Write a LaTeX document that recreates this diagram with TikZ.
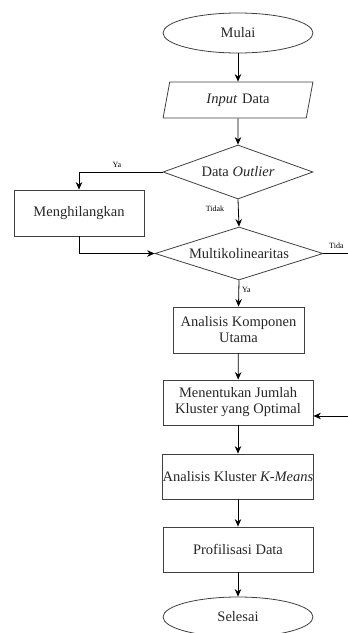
\documentclass[tikz,border=0pt]{standalone}
\usepackage{fontspec}
\setmainfont{Liberation Serif}
\usetikzlibrary{shapes.geometric,arrows.meta}
\begin{document}
\begin{tikzpicture}[x=1pt,y=-1pt,
  base/.style={draw=black!75,line width=0.8pt,font=\fontsize{14.5}{16}\selectfont,inner sep=0pt,align=center,text=black!85},
  term/.style={base,ellipse,minimum width=150pt,minimum height=40pt},
  io/.style={base,trapezium,trapezium left angle=65,trapezium right angle=115,minimum width=150pt,minimum height=36pt,trapezium stretches=true,text width=120pt},
  dec/.style={base,diamond,aspect=2.8,minimum width=150pt,minimum height=54pt},
  proc/.style={base,rectangle,minimum height=46pt},
  lab/.style={font=\fontsize{8}{9}\selectfont,inner sep=1pt},
  arr/.style={line width=0.8pt,-{Stealth[length=7.5pt,width=6.5pt]}},
  ln/.style={line width=0.8pt}]
\useasboundingbox (0,0) rectangle (348,633);
\node[term] (mulai) at (238,33) {Mulai};
\node[io] (input) at (238,100) {\textit{Input} Data};
\node[dec] (outlier) at (238,172) {Data \textit{Outlier}};
\node[proc,minimum width=130pt] (hilang) at (79,213) {Menghilangkan};
\node[dec,minimum width=168pt,minimum height=53pt,aspect=3.2] (multi) at (239,253.5) {Multikolinearitas};
\node[proc,minimum width=131pt] (pca) at (238.5,330) {Analisis Komponen\\Utama};
\node[proc,minimum width=150pt,minimum height=45pt] (jumlah) at (238,402.5) {Menentukan Jumlah\\Kluster yang Optimal};
\node[proc,minimum width=150pt,minimum height=45pt] (kmeans) at (238,476.5) {Analisis Kluster \textit{K-Means}};
\node[proc,minimum width=150pt,minimum height=45pt] (profil) at (238,549.5) {Profilisasi Data};
\node[term] (selesai) at (238,617) {Selesai};
\coordinate (edgeA) at (348,253.5);
\coordinate (edgeB) at (348,416);
\draw[arr] (mulai) -- (input);
\draw[arr] (input) -- (outlier);
\draw[arr] (outlier.west) -| (hilang.north);
\node[lab] at (117,165) {Ya};
\draw[arr] (outlier.south) -- (multi.north);
\node[lab] at (215,209) {Tidak};
\draw[arr] (hilang.south) |- (multi.west);
\draw[ln] (multi.east) -- (edgeA);
\node[lab,anchor=south west] at (328,250) {Tida};
\draw[arr] (multi.south) -- (pca.north) node[lab,pos=0.35,right=2pt] {Ya};
\draw[arr] (pca) -- (jumlah);
\draw[arr] (edgeB) -- (jumlah.east |- edgeB);
\draw[arr] (jumlah) -- (kmeans);
\draw[arr] (kmeans) -- (profil);
\draw[arr] (profil) -- (selesai);
\end{tikzpicture}
\end{document}
